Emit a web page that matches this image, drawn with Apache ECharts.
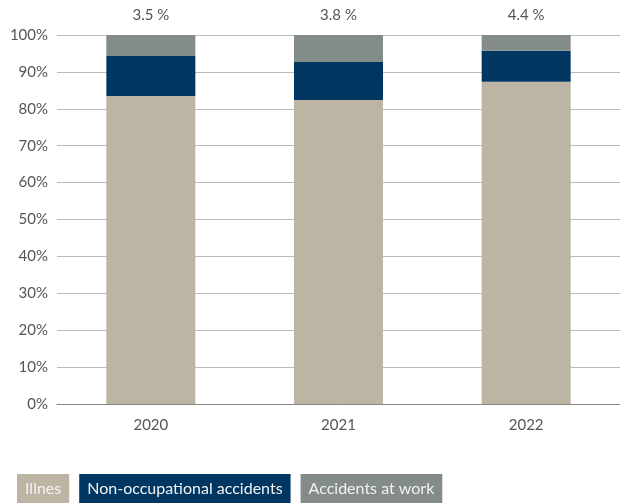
<!DOCTYPE html>
<html>
<head>
<meta charset="utf-8">
<script src="https://cdn.jsdelivr.net/npm/echarts@6/dist/echarts.min.js"></script>
<style>
  html, body { margin: 0; padding: 0; background: #fff; }
  #chart { width: 620px; height: 504px; }
</style>
</head>
<body>
<div id="chart"></div>
<script>
// 年份
const years = ['2020', '2021', '2022'];
// 各项占比 (%)
const illnes = [83.5, 82.4, 87.3];
const nonOccupational = [10.8, 10.3, 8.4];
const atWork = [5.7, 7.3, 4.3];
// 柱顶标签
const topLabels = ['3.5 %', '3.8 %', '4.4 %'];

const colors = ['#bcb5a4', '#003662', '#848c8a'];
const font = 'Lato, "Open Sans", sans-serif';

const chart = echarts.init(document.getElementById('chart'));

chart.setOption({
  animation: false,
  textStyle: { fontFamily: font },
  grid: { left: 57, right: -5, top: 35, bottom: 100 },
  legend: {
    left: 7,
    bottom: -4,
    icon: 'rect',
    itemWidth: 0,
    itemHeight: 0,
    itemGap: 5,
    selectedMode: false,
    textStyle: { fontSize: 16, color: '#f2f2f2', padding: [7, 8, 6, 8] },
    data: [
      { name: 'Illnes', textStyle: { backgroundColor: colors[0] } },
      { name: 'Non-occupational accidents', textStyle: { backgroundColor: colors[1] } },
      { name: 'Accidents at work', textStyle: { backgroundColor: colors[2] } }
    ]
  },
  xAxis: {
    type: 'category',
    data: years,
    axisLine: { show: true, lineStyle: { color: '#888', width: 1 } },
    axisTick: { show: false },
    axisLabel: { color: '#555', fontSize: 15, margin: 14, fontFamily: font }
  },
  yAxis: {
    type: 'value',
    min: 0,
    max: 100,
    interval: 10,
    axisLine: { show: false },
    axisTick: { show: false },
    axisLabel: { color: '#555', fontSize: 15, margin: 9, formatter: '{value}%', fontFamily: font },
    splitLine: { lineStyle: { color: '#bbb', width: 1 } }
  },
  series: [
    {
      name: 'Illnes',
      type: 'bar',
      stack: 'total',
      barWidth: 89,
      itemStyle: { color: colors[0] },
      data: illnes
    },
    {
      name: 'Non-occupational accidents',
      type: 'bar',
      stack: 'total',
      barWidth: 89,
      itemStyle: { color: colors[1] },
      data: nonOccupational
    },
    {
      name: 'Accidents at work',
      type: 'bar',
      stack: 'total',
      barWidth: 89,
      itemStyle: { color: colors[2] },
      label: {
        show: true,
        position: 'top',
        distance: 12,
        color: '#555',
        fontSize: 15,
        fontFamily: font,
        formatter: (p) => topLabels[p.dataIndex]
      },
      data: atWork
    }
  ]
});
</script>
</body>
</html>
